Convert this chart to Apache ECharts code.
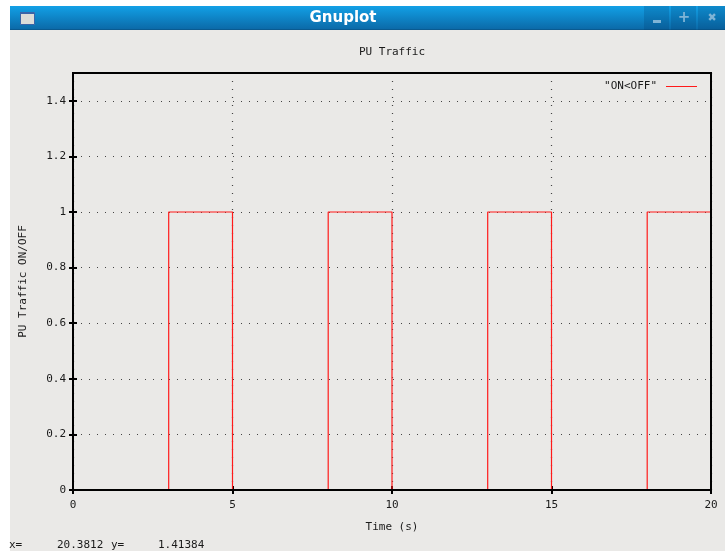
<!DOCTYPE html>
<html>
<head>
<meta charset="utf-8">
<script src="https://cdn.jsdelivr.net/npm/echarts@6/dist/echarts.min.js"></script>
<style>
  html, body { margin: 0; padding: 0; background: #ffffff; }
  #chart { width: 725px; height: 551px; }
</style>
</head>
<body>
<div id="chart"></div>
<script>
// PU traffic ON/OFF switching times (s) and state after each switch
const times = [0, 3, 5, 8, 10, 13, 15, 18, 20];
const states = [0, 1, 0, 1, 0, 1, 0, 1, 1];
const seriesName = '"ON<OFF"';
const xTicks = [0, 5, 10, 15, 20];
const yTicks = [0, 0.2, 0.4, 0.6, 0.8, 1, 1.2, 1.4];

const MONO = '"DejaVu Sans Mono", "Liberation Mono", monospace';
const G = { left: 73, top: 73, right: 14, bottom: 61 };
const W = 725, H = 551;
const gw = W - G.left - G.right;
const INK = '#1a1a1a';

const chart = echarts.init(document.getElementById('chart'), null, { renderer: 'canvas' });

const points = times.map((t, i) => [t, states[i]]);

const tickStyle = (vals) => ({ show: true, inside: true, length: 4, customValues: vals,
  lineStyle: { color: '#000', width: 2 } });
const dotted = { show: true, lineStyle: { color: '#444', width: 1.2, type: [1, 7] } };

chart.setOption({
  backgroundColor: '#eae9e7',
  animation: false,
  textStyle: { fontFamily: MONO },
  title: {
    text: 'PU Traffic',
    left: G.left + gw / 2 - 5,
    textAlign: 'center',
    top: 42,
    textStyle: { fontFamily: MONO, fontSize: 11, fontWeight: 'normal', color: INK }
  },
  legend: {
    data: [{ name: seriesName, icon: 'rect' }],
    right: 23,
    top: 76,
    align: 'right',
    itemWidth: 31,
    itemHeight: 1,
    textStyle: { fontFamily: MONO, fontSize: 11, color: INK, padding: [0, 4, 0, 0] }
  },
  // plot frame drawn above the trace so the OFF level sits under the border
  grid: { left: G.left, top: G.top, right: G.right, bottom: G.bottom, containLabel: false,
    show: true, borderColor: '#000', borderWidth: 2, backgroundColor: 'transparent', z: 10 },
  xAxis: [{
    type: 'value', min: xTicks[0], max: xTicks[xTicks.length - 1], interval: 5,
    name: 'Time (s)', nameLocation: 'middle', nameGap: 32,
    nameTextStyle: { fontFamily: MONO, fontSize: 11, color: INK },
    axisLine: { show: false },
    axisTick: tickStyle(xTicks),
    axisLabel: { margin: 10, fontFamily: MONO, fontSize: 11, color: INK, customValues: xTicks },
    splitLine: dotted
  }, {
    type: 'value', position: 'top', min: xTicks[0], max: xTicks[xTicks.length - 1], interval: 5,
    axisLine: { show: false }, axisTick: tickStyle(xTicks), axisLabel: { show: false }, splitLine: { show: false }
  }],
  yAxis: [{
    type: 'value', min: 0, max: 1.5, interval: 0.2,
    name: 'PU Traffic ON/OFF', nameLocation: 'middle', nameGap: 44, nameRotate: 90,
    nameTextStyle: { fontFamily: MONO, fontSize: 11, color: INK },
    axisLine: { show: false },
    axisTick: tickStyle(yTicks),
    axisLabel: { margin: 7, fontFamily: MONO, fontSize: 11, color: INK, customValues: yTicks,
      formatter: v => String(+(+v).toFixed(1)) },
    splitLine: dotted
  }, {
    type: 'value', position: 'right', min: 0, max: 1.5, interval: 0.2,
    axisLine: { show: false }, axisTick: tickStyle(yTicks), axisLabel: { show: false }, splitLine: { show: false }
  }],
  series: [{
    name: seriesName,
    type: 'line',
    step: 'end',
    data: points,
    symbol: 'none',
    lineStyle: { color: '#ff1a1a', width: 1.2 },
    itemStyle: { color: '#ff1a1a' },
    z: 2
  }],
  graphic: [
    // window frame: white margin
    { type: 'rect', left: 0, top: 0, shape: { width: W, height: 6 }, style: { fill: '#ffffff' }, z: 100 },
    { type: 'rect', left: 0, top: 0, shape: { width: 10, height: H }, style: { fill: '#ffffff' }, z: 100 },
    // title bar
    { type: 'rect', left: 10, top: 6, shape: { width: W - 10, height: 24 }, z: 100,
      style: { fill: new echarts.graphic.LinearGradient(0, 0, 0, 1, [
        { offset: 0, color: '#12a0e6' }, { offset: 1, color: '#0b68a6' }]) } },
    { type: 'rect', left: 10, top: 29, shape: { width: W - 10, height: 1 }, style: { fill: '#0a5a90' }, z: 101 },
    // window icon
    { type: 'rect', left: 20, top: 12, shape: { width: 14, height: 12 }, style: { fill: '#dcdcd8', stroke: '#3a64a8', lineWidth: 1 }, z: 101 },
    { type: 'rect', left: 20, top: 12, shape: { width: 14, height: 2 }, style: { fill: '#3a64a8' }, z: 102 },
    { type: 'text', x: 343, y: 18, z: 101,
      style: { text: 'Gnuplot', fill: '#ffffff', font: 'bold 15px "DejaVu Sans", "Noto Sans", sans-serif', textAlign: 'center', textVerticalAlign: 'middle' } },
    // title bar buttons
    { type: 'rect', left: 644, top: 6, shape: { width: 25, height: 24 }, style: { fill: 'rgba(0,60,110,0.22)' }, z: 101 },
    { type: 'rect', left: 671, top: 6, shape: { width: 25, height: 24 }, style: { fill: 'rgba(0,60,110,0.22)' }, z: 101 },
    { type: 'rect', left: 698, top: 6, shape: { width: 27, height: 24 }, style: { fill: 'rgba(0,60,110,0.22)' }, z: 101 },
    { type: 'rect', left: 653, top: 20, shape: { width: 8, height: 3 }, style: { fill: '#7fb4d6' }, z: 102 },
    { type: 'text', x: 684, y: 18, z: 102, style: { text: '+', fill: '#7fb4d6', font: 'bold 15px "DejaVu Sans", sans-serif', textAlign: 'center', textVerticalAlign: 'middle' } },
    { type: 'text', x: 712, y: 18, z: 102, style: { text: '✖', fill: '#7fb4d6', font: 'bold 11px "DejaVu Sans", sans-serif', textAlign: 'center', textVerticalAlign: 'middle' } },
    // mouse position readout
    { type: 'text', x: 9, y: 545, z: 101, style: { text: 'x=', fill: INK, font: '11px ' + MONO, textVerticalAlign: 'middle' } },
    { type: 'text', x: 57, y: 545, z: 101, style: { text: '20.3812', fill: INK, font: '11px ' + MONO, textVerticalAlign: 'middle' } },
    { type: 'text', x: 111, y: 545, z: 101, style: { text: 'y=', fill: INK, font: '11px ' + MONO, textVerticalAlign: 'middle' } },
    { type: 'text', x: 158, y: 545, z: 101, style: { text: '1.41384', fill: INK, font: '11px ' + MONO, textVerticalAlign: 'middle' } }
  ]
});
</script>
</body>
</html>
